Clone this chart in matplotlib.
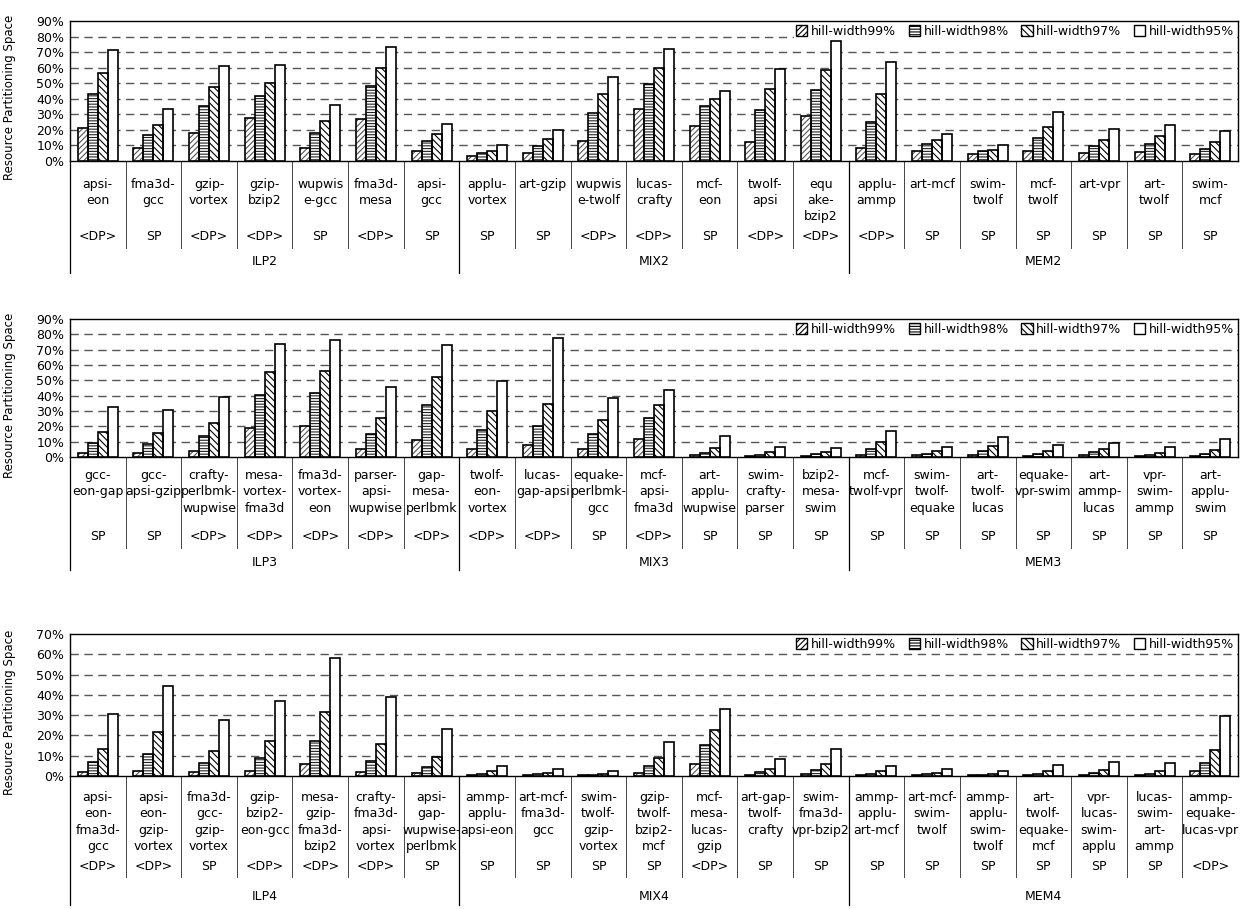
import numpy as np
import matplotlib
matplotlib.use("Agg")
import matplotlib.pyplot as plt
from matplotlib.patches import Patch
from matplotlib.ticker import FuncFormatter

# series / legend
series = ["hill-width99%", "hill-width98%", "hill-width97%", "hill-width95%"]

# --- panel 1 : 2 threads ---
groups_2 = ["ILP2", "MIX2", "MEM2"]
names_2 = ["apsi-\neon", "fma3d-\ngcc", "gzip-\nvortex", "gzip-\nbzip2", "wupwis\ne-gcc",
           "fma3d-\nmesa", "apsi-\ngcc", "applu-\nvortex", "art-gzip", "wupwis\ne-twolf",
           "lucas-\ncrafty", "mcf-\neon", "twolf-\napsi", "equ\nake-\nbzip2", "applu-\nammp",
           "art-mcf", "swim-\ntwolf", "mcf-\ntwolf", "art-vpr", "art-\ntwolf", "swim-\nmcf"]
kinds_2 = ["<DP>", "SP", "<DP>", "<DP>", "SP", "<DP>", "SP", "SP", "SP", "<DP>", "<DP>",
           "SP", "<DP>", "<DP>", "<DP>", "SP", "SP", "SP", "SP", "SP", "SP"]
hw99_2 = [20.9, 8.0, 17.6, 27.7, 8.0, 27.1, 6.0, 3.0, 5.0, 12.5, 33.1, 22.6, 12.0, 28.6, 8.0, 6.2, 4.3, 6.5, 4.7, 5.4, 4.5]
hw98_2 = [42.8, 16.6, 35.5, 41.5, 17.6, 48.0, 12.5, 5.0, 9.5, 30.5, 49.5, 35.3, 32.7, 45.4, 25.2, 10.5, 6.0, 14.6, 9.7, 11.0, 7.3]
hw97_2 = [56.3, 23.0, 47.3, 49.9, 25.6, 60.0, 17.0, 6.5, 13.8, 43.0, 59.6, 40.0, 46.5, 58.3, 43.0, 13.3, 6.9, 21.5, 13.5, 15.7, 11.8]
hw95_2 = [71.2, 33.1, 60.9, 61.5, 36.1, 73.1, 23.9, 10.3, 20.0, 54.2, 71.8, 44.7, 58.9, 77.0, 63.4, 17.4, 9.9, 31.4, 20.6, 22.8, 18.9]

# --- panel 2 : 3 threads ---
groups_3 = ["ILP3", "MIX3", "MEM3"]
names_3 = ["gcc-\neon-gap", "gcc-\napsi-gzip", "crafty-\nperlbmk-\nwupwise", "mesa-\nvortex-\nfma3d",
           "fma3d-\nvortex-\neon", "parser-\napsi-\nwupwise", "gap-\nmesa-\nperlbmk", "twolf-\neon-\nvortex",
           "lucas-\ngap-apsi", "equake-\nperlbmk-\ngcc", "mcf-\napsi-\nfma3d", "art-\napplu-\nwupwise",
           "swim-\ncrafty-\nparser", "bzip2-\nmesa-\nswim", "mcf-\ntwolf-vpr", "swim-\ntwolf-\nequake",
           "art-\ntwolf-\nlucas", "equake-\nvpr-swim", "art-\nammp-\nlucas", "vpr-\nswim-\nammp",
           "art-\napplu-\nswim"]
kinds_3 = ["SP", "SP", "<DP>", "<DP>", "<DP>", "<DP>", "<DP>", "<DP>", "<DP>", "SP", "<DP>",
           "SP", "SP", "SP", "SP", "SP", "SP", "SP", "SP", "SP", "SP"]
hw99_3 = [2.6, 2.4, 3.9, 18.9, 20.0, 5.0, 11.3, 5.0, 7.6, 5.0, 11.7, 1.1, 0.7, 0.7, 1.5, 1.1, 1.5, 0.9, 1.5, 0.7, 0.7]
hw98_3 = [9.1, 8.5, 13.7, 40.3, 41.9, 15.2, 34.0, 17.6, 20.2, 14.8, 25.4, 2.6, 1.5, 1.7, 5.2, 2.2, 4.1, 2.2, 3.3, 1.3, 2.2]
hw97_3 = [16.5, 15.8, 22.3, 55.5, 56.2, 25.2, 52.0, 29.9, 34.5, 24.1, 33.8, 6.1, 3.3, 3.3, 9.5, 3.7, 7.4, 3.9, 5.2, 2.6, 4.6]
hw95_3 = [32.8, 30.8, 39.3, 74.0, 76.6, 45.6, 72.9, 49.7, 77.9, 38.4, 44.0, 13.4, 6.7, 6.1, 16.9, 6.7, 13.2, 7.8, 8.9, 6.3, 11.7]

# --- panel 3 : 4 threads ---
groups_4 = ["ILP4", "MIX4", "MEM4"]
names_4 = ["apsi-\neon-\nfma3d-\ngcc", "apsi-\neon-\ngzip-\nvortex", "fma3d-\ngcc-\ngzip-\nvortex",
           "gzip-\nbzip2-\neon-gcc", "mesa-\ngzip-\nfma3d-\nbzip2", "crafty-\nfma3d-\napsi-\nvortex",
           "apsi-\ngap-\nwupwise-\nperlbmk", "ammp-\napplu-\napsi-eon", "art-mcf-\nfma3d-\ngcc",
           "swim-\ntwolf-\ngzip-\nvortex", "gzip-\ntwolf-\nbzip2-\nmcf", "mcf-\nmesa-\nlucas-\ngzip",
           "art-gap-\ntwolf-\ncrafty", "swim-\nfma3d-\nvpr-bzip2", "ammp-\napplu-\nart-mcf",
           "art-mcf-\nswim-\ntwolf", "ammp-\napplu-\nswim-\ntwolf", "art-\ntwolf-\nequake-\nmcf",
           "vpr-\nlucas-\nswim-\napplu", "lucas-\nswim-\nart-\nammp", "ammp-\nequake-\nlucas-vpr"]
kinds_4 = ["<DP>", "<DP>", "SP", "<DP>", "<DP>", "<DP>", "SP", "SP", "SP", "SP", "SP",
           "<DP>", "SP", "SP", "SP", "SP", "SP", "SP", "SP", "SP", "<DP>"]
hw99_4 = [1.8, 2.6, 1.8, 2.5, 5.8, 1.8, 1.7, 0.5, 0.3, 0.3, 1.7, 6.1, 0.5, 1.2, 0.5, 0.3, 0.3, 0.5, 0.7, 0.5, 2.3]
hw98_4 = [6.8, 10.7, 6.3, 8.7, 17.5, 7.3, 4.6, 1.0, 0.8, 0.5, 4.8, 15.2, 1.8, 3.1, 1.2, 0.8, 0.5, 1.2, 1.7, 1.2, 6.4]
hw97_4 = [13.5, 21.6, 12.5, 17.5, 31.7, 16.0, 9.6, 2.3, 1.7, 1.0, 8.9, 22.9, 3.3, 6.1, 2.5, 1.7, 1.0, 2.5, 3.1, 2.5, 12.7]
hw95_4 = [30.5, 44.4, 27.7, 36.8, 58.3, 38.9, 23.4, 5.1, 3.6, 2.5, 17.0, 33.0, 8.6, 13.4, 5.1, 3.6, 2.6, 5.6, 7.1, 6.6, 29.4]

hatches = ["//////", "------", "\\\\\\\\\\", ""]
hatch_cols = ["#555555", "#222222", "#000000", "black"]
FS = 9

plt.rcParams["hatch.linewidth"] = 0.8
plt.rcParams["font.family"] = ["DejaVu Sans"]

fig = plt.figure(figsize=(12.41, 9.09), dpi=100)
W, H = 1241, 909


def draw_panel(rect, names, kinds, groups, values, ymax, name_off, kind_off, group_off, minor_len, major_len):
    left, top, right, bottom = rect
    ax = fig.add_axes([left / W, 1 - bottom / H, (right - left) / W, (bottom - top) / H])
    x = np.arange(len(names))
    w = 0.18
    for k in range(4):
        # hatch drawn with its own colour, then a black outline on top
        ax.bar(x + (k - 1.5) * w, values[k], w, facecolor="white", edgecolor=hatch_cols[k],
               hatch=hatches[k], linewidth=0, zorder=3)
        ax.bar(x + (k - 1.5) * w, values[k], w, fill=False, edgecolor="black", linewidth=1.2, zorder=4)

    ax.set_xlim(-0.5, len(names) - 0.5)
    ax.set_ylim(0, ymax)
    ax.set_yticks(np.arange(0, ymax + 1, 10))
    ax.yaxis.set_major_formatter(FuncFormatter(lambda v, p: f"{v:.0f}%"))
    ax.tick_params(axis="y", length=0, labelsize=FS, pad=4)
    ax.set_xticks([])
    for yv in np.arange(10, ymax, 10):
        ax.axhline(yv, color="#555555", lw=1.0, ls=(0, (6, 4)), zorder=1)
    for s in ax.spines.values():
        s.set_linewidth(1.0)
    ax.set_ylabel("Resource Partitioning Space", fontsize=8.5)
    ax.yaxis.set_label_coords(-54 / (right - left), 0.45)

    # category labels under the axis
    for i, nm in enumerate(names):
        ax.annotate(nm, xy=(i, 0), xycoords=("data", "axes fraction"), xytext=(0, -name_off),
                    textcoords="offset pixels", ha="center", va="top", multialignment="center",
                    linespacing=1.33, fontsize=FS)
        ax.annotate(kinds[i], xy=(i, 0), xycoords=("data", "axes fraction"), xytext=(0, -kind_off),
                    textcoords="offset pixels", ha="center", va="center", fontsize=FS)
    for g, gname in enumerate(groups):
        ax.annotate(gname, xy=(g * 7 + 3, 0), xycoords=("data", "axes fraction"), xytext=(0, -group_off),
                    textcoords="offset pixels", ha="center", va="center", fontsize=FS)

    axh = bottom - top
    for b in np.arange(-0.5, len(names) - 0.5):
        major = b in (-0.5, 6.5, 13.5)
        ln = major_len if major else minor_len
        ax.plot([b, b], [0, -ln / axh], transform=ax.get_xaxis_transform(), clip_on=False,
                color="black" if major else "#444444", lw=0.9 if major else 0.7)

    handles = [Patch(facecolor="white", edgecolor="black", hatch=hatches[k], label=series[k]) for k in range(4)]
    leg = ax.legend(handles=handles, loc="upper right", ncol=4, fontsize=FS, frameon=True,
                    edgecolor="none", facecolor="white", framealpha=1, fancybox=False,
                    handlelength=0.9, handleheight=0.9, handletextpad=0.3, columnspacing=1.0,
                    borderaxespad=0.15, borderpad=0.15)
    leg.set_zorder(5)
    return ax


draw_panel((70, 21, 1238, 160.7), names_2, kinds_2, groups_2,
           [hw99_2, hw98_2, hw97_2, hw95_2], 90, 17, 76, 101, 87, 112)
draw_panel((70, 319, 1238, 457), names_3, kinds_3, groups_3,
           [hw99_3, hw98_3, hw97_3, hw95_3], 90, 12, 80, 106, 91, 113)
draw_panel((70, 634, 1238, 776), names_4, kinds_4, groups_4,
           [hw99_4, hw98_4, hw97_4, hw95_4], 70, 15, 90, 121, 101, 129)

fig.savefig("out.png", dpi=100, facecolor="white")
